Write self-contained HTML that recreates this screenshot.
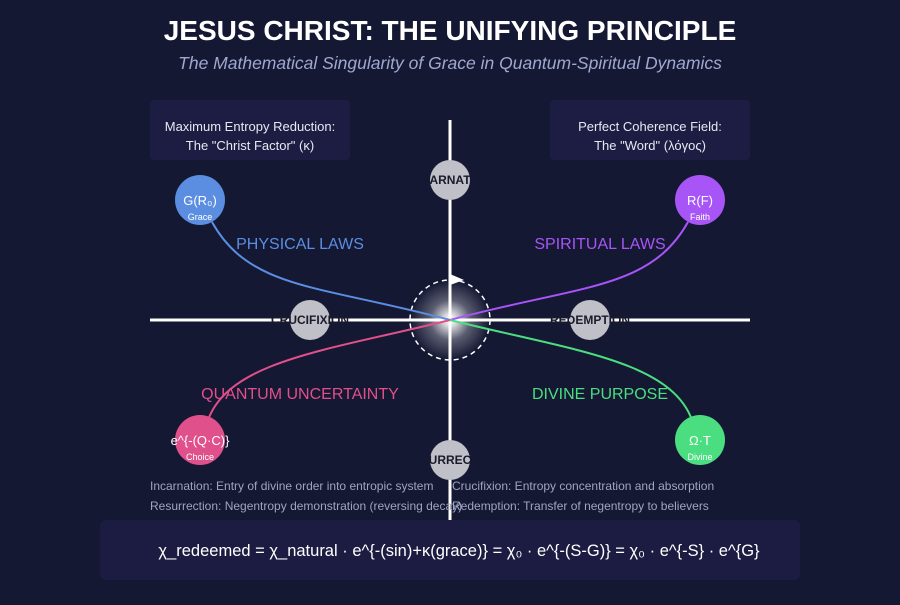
<!DOCTYPE html>
<html><head><meta charset="utf-8"><style>
body{margin:0;width:900px;height:600px;background:#151833;overflow:hidden;font-family:"Liberation Sans",sans-serif}
</style></head><body>
<svg width="900" height="600" xmlns="http://www.w3.org/2000/svg" font-family="Liberation Sans, DejaVu Sans, sans-serif">
<defs><radialGradient id="g"><stop offset="0" stop-color="#fff" stop-opacity="1"/><stop offset="0.15" stop-color="#fff" stop-opacity="0.85"/><stop offset="0.5" stop-color="#fff" stop-opacity="0.3"/><stop offset="1" stop-color="#fff" stop-opacity="0"/></radialGradient></defs>
<rect width="900" height="600" fill="#151833"/>
<text x="450" y="40" text-anchor="middle" fill="#fff" font-size="28" font-weight="bold">JESUS CHRIST: THE UNIFYING PRINCIPLE</text>
<text x="450" y="69" text-anchor="middle" fill="#a0a8d0" font-size="17.5" font-style="italic">The Mathematical Singularity of Grace in Quantum-Spiritual Dynamics</text>
<rect x="150" y="100" width="200" height="60" rx="4" fill="#1d1d44"/>
<text x="250" y="131" text-anchor="middle" fill="#e8e8f0" font-size="13">Maximum Entropy Reduction:</text>
<text x="250" y="150" text-anchor="middle" fill="#e8e8f0" font-size="13">The "Christ Factor" (κ)</text>
<rect x="550" y="100" width="200" height="60" rx="4" fill="#1d1d44"/>
<text x="650" y="131" text-anchor="middle" fill="#e8e8f0" font-size="13">Perfect Coherence Field:</text>
<text x="650" y="150" text-anchor="middle" fill="#e8e8f0" font-size="13">The "Word" (λόγος)</text>
<rect x="100" y="520" width="700" height="60" rx="6" fill="#1c1c42"/>
<text x="459" y="556" text-anchor="middle" fill="#fff" font-size="16.5">χ_redeemed = χ_natural · e^{-(sin)+κ(grace)} = χ₀ · e^{-(S-G)} = χ₀ · e^{-S} · e^{G}</text>
<line x1="150" y1="320" x2="750" y2="320" stroke="#fff" stroke-width="3"/>
<line x1="450" y1="120" x2="450" y2="520" stroke="#fff" stroke-width="3"/>
<circle cx="450" cy="320" r="40" fill="url(#g)"/>
<circle cx="450" cy="320" r="40" fill="none" stroke="#fff" stroke-width="1.5" stroke-dasharray="5,4"/>
<polygon points="450,274 464,280 450,285" fill="#fff"/>
<path d="M212,222 C250,290 320,285 450,320" fill="none" stroke="#5b8de0" stroke-width="2"/>
<path d="M688,222 C650,290 580,285 450,320" fill="none" stroke="#a855f7" stroke-width="2"/>
<path d="M208,420 C230,360 330,350 450,320" fill="none" stroke="#e0508a" stroke-width="2"/>
<path d="M692,420 C670,360 570,350 450,320" fill="none" stroke="#4ade80" stroke-width="2"/>
<text x="300" y="249" text-anchor="middle" fill="#5b8de0" font-size="16">PHYSICAL LAWS</text>
<text x="600" y="249" text-anchor="middle" fill="#a855f7" font-size="16">SPIRITUAL LAWS</text>
<text x="300" y="399" text-anchor="middle" fill="#e0508a" font-size="16">QUANTUM UNCERTAINTY</text>
<text x="600" y="399" text-anchor="middle" fill="#4ade80" font-size="16">DIVINE PURPOSE</text>
<g fill="#c0c0c8"><circle cx="450" cy="180" r="20"/><circle cx="310" cy="320" r="20"/><circle cx="590" cy="320" r="20"/><circle cx="450" cy="460" r="20"/></g>
<g fill="#1a1a2a" font-size="12" font-weight="bold" text-anchor="middle">
<text x="450" y="184">ARNAT</text><text x="310" y="324">CRUCIFIXION</text><text x="590" y="324">REDEMPTION</text><text x="450" y="464">URREC</text></g>
<circle cx="200" cy="200" r="25" fill="#5b8de0"/><circle cx="700" cy="200" r="25" fill="#a855f7"/>
<circle cx="200" cy="440" r="25" fill="#e0508a"/><circle cx="700" cy="440" r="25" fill="#4ade80"/>
<g fill="#fff" text-anchor="middle">
<text x="200" y="205" font-size="13">G(R₀)</text><text x="200" y="220" font-size="9">Grace</text>
<text x="700" y="205" font-size="13">R(F)</text><text x="700" y="220" font-size="9">Faith</text>
<text x="200" y="445" font-size="13">e^{-(Q·C)}</text><text x="200" y="460" font-size="9">Choice</text>
<text x="700" y="445" font-size="13">Ω·T</text><text x="700" y="460" font-size="9">Divine</text></g>
<g fill="#a0a4c0" font-size="12">
<text x="150" y="490">Incarnation: Entry of divine order into entropic system</text>
<text x="150" y="510">Resurrection: Negentropy demonstration (reversing decay)</text>
<text x="452" y="490">Crucifixion: Entropy concentration and absorption</text>
<text x="452" y="510">Redemption: Transfer of negentropy to believers</text></g>
</svg>
</body></html>
